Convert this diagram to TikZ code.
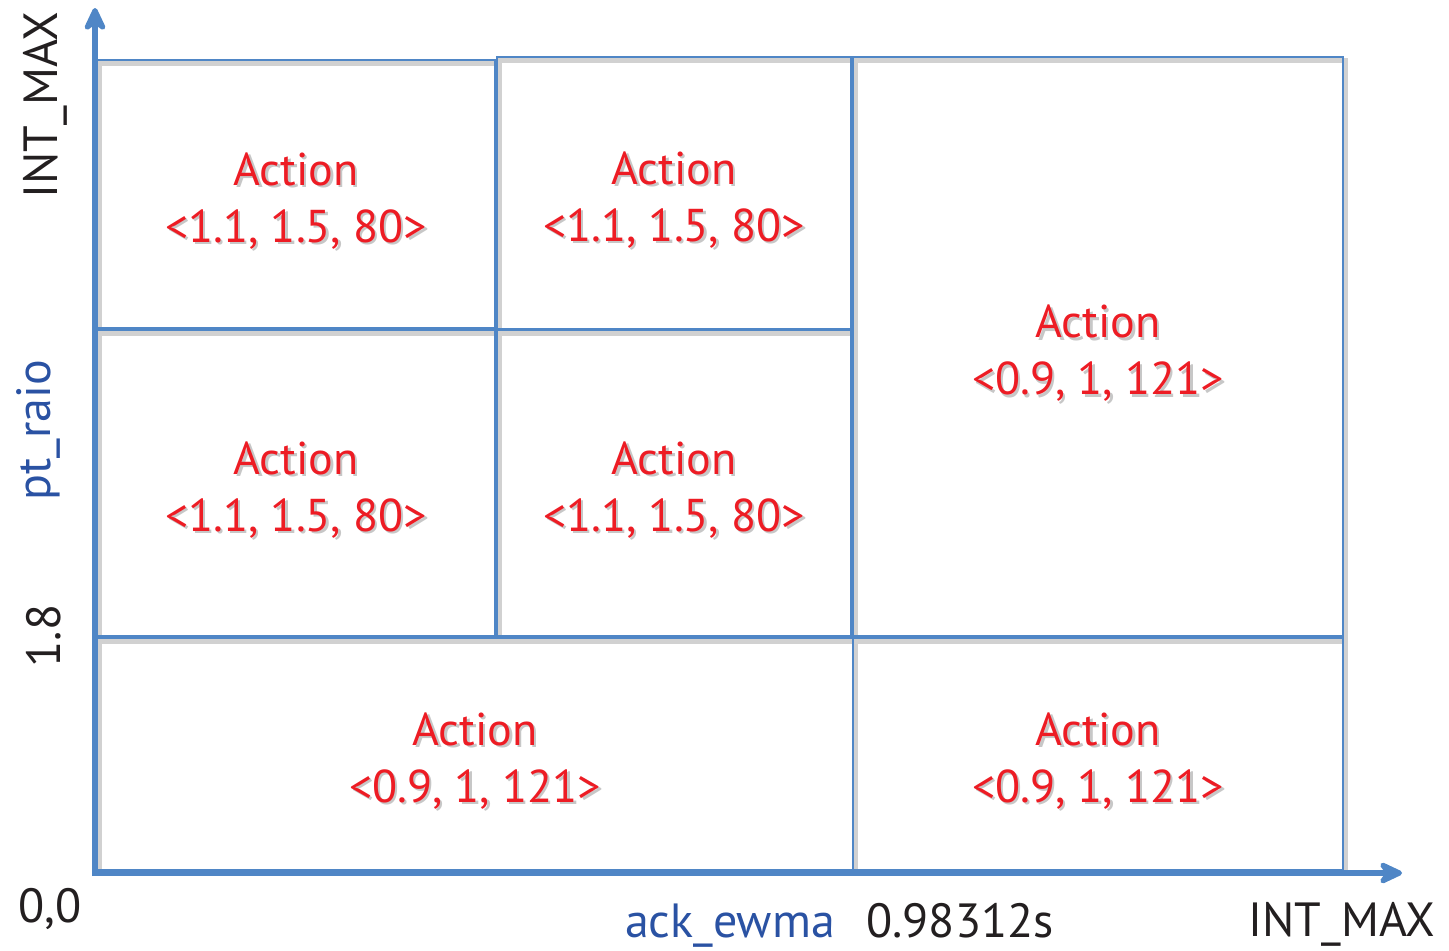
\documentclass[tikz,border=0pt]{standalone}
\usepackage{fontspec}
\setmainfont{PT Sans}
\usetikzlibrary{arrows.meta,shadows}
\definecolor{axblue}{RGB}{79,134,198}
\definecolor{actred}{RGB}{237,28,36}
\definecolor{lblblue}{RGB}{42,82,163}
\definecolor{ink}{RGB}{35,31,32}
\newcommand\shd[1]{\leavevmode\rlap{\kern1.2pt\raisebox{-1.4pt}{\color{black!22}#1}}#1}
\begin{document}
\begin{tikzpicture}[x=0.5pt,y=-0.5pt,
  cell/.style={draw=axblue, line width=1.3pt, inner sep=0pt,
    general shadow={draw=black!18, line width=2.5pt, shadow xshift=1.2pt, shadow yshift=-1.6pt}},
  celltext/.style={text=actred, align=center, inner sep=0pt,
    font=\fontsize{23}{28.5}\selectfont, yshift=-4pt},
  axis/.style={draw=axblue, line width=3pt, -{Stealth[length=15pt,width=14pt,inset=5pt,round]}},
  lbl/.style={font=\fontsize{24}{28}\selectfont, text=ink, inner sep=0pt},
  bluelbl/.style={lbl, text=lblblue}]
\path[use as bounding box] (0,0) rectangle (1449,950);
% cells
\node[cell, minimum width=199pt, minimum height=134pt,
  label={[celltext]center:\shd{Action}\\\shd{<1.1, 1.5, 80>}}] (tl) at (296,194) {};
\node[cell, minimum width=177pt, minimum height=136pt,
  label={[celltext]center:\shd{Action}\\\shd{<1.1, 1.5, 80>}}] (tm) at (674,193) {};
\node[cell, minimum width=199pt, minimum height=153pt,
  label={[celltext]center:\shd{Action}\\\shd{<1.1, 1.5, 80>}}] (ml) at (296,483) {};
\node[cell, minimum width=177pt, minimum height=153pt,
  label={[celltext]center:\shd{Action}\\\shd{<1.1, 1.5, 80>}}] (mm) at (674,483) {};
\node[cell, minimum width=245pt, minimum height=289.5pt,
  label={[celltext]center:\shd{Action}\\\shd{<0.9, 1, 121>}}] (r) at (1098,346.5) {};
\node[cell, minimum width=378pt, minimum height=116pt,
  label={[celltext]center:\shd{Action}\\\shd{<0.9, 1, 121>}}] (bl) at (475,754) {};
\node[cell, minimum width=245pt, minimum height=116pt,
  label={[celltext]center:\shd{Action}\\\shd{<0.9, 1, 121>}}] (br) at (1098,754) {};
% axes
\coordinate (O) at (95,873);
\coordinate (ytop) at (95,8);
\coordinate (xend) at (1402,873);
\draw[axis] ([yshift=-1.5pt]O) -- (ytop);
\draw[axis] ([xshift=-1.5pt]O) -- (xend);
% labels
\node[lbl, rotate=90, anchor=base] (ymax) at (57,105) {INT\_MAX};
\node[bluelbl, rotate=90, anchor=base] (ylab) at (50,430) {pt\_raio};
\node[lbl, rotate=90, anchor=base] (ytick) at (60,636) {1.8};
\node[lbl, anchor=base] (orig) at (50,922) {0,0};
\node[bluelbl, anchor=base] (xlab) at (730,937) {ack\_ewma};
\node[lbl, anchor=base] (xtick) at (960,937) {0.98312s};
\node[lbl, anchor=base] (xmax) at (1342,936) {INT\_MAX};
\end{tikzpicture}
\end{document}
